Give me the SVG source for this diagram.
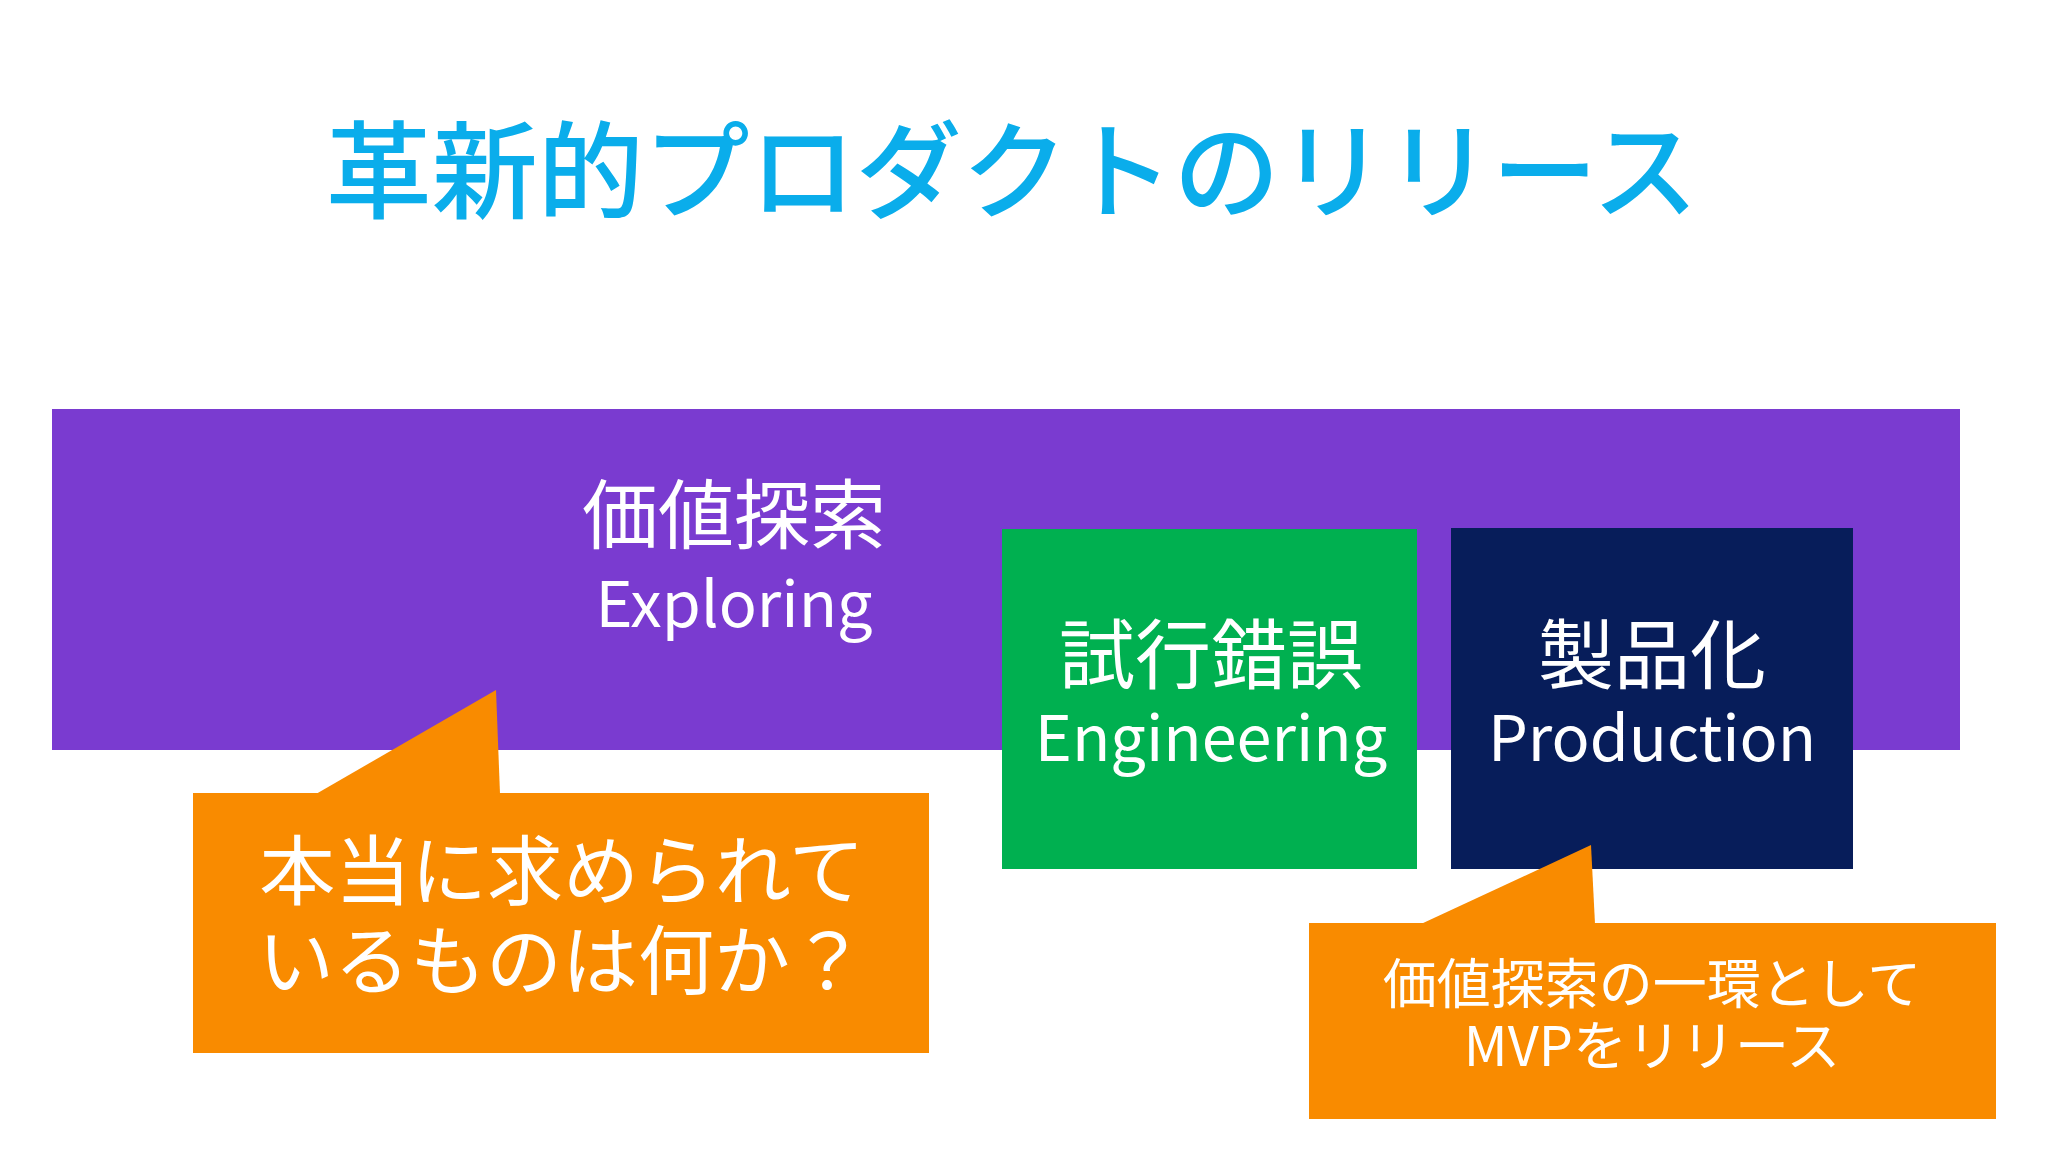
<svg xmlns="http://www.w3.org/2000/svg" width="2048" height="1152" viewBox="0 0 2048 1152">
<style>
text{font-family:"Noto Sans CJK JP","Noto Sans",sans-serif;text-anchor:middle;fill:#fff}
.t{fill:#0AADEB;font-size:106px;font-weight:500}
.big{font-size:76px}
.en{font-size:63px}
.c{fill:#F98B00}
</style>
<rect width="2048" height="1152" fill="#fff"/>
<g id="title"><text class="t" x="1012" y="210">革新的プロダクトのリリース</text></g>
<g id="exploring">
<rect x="52" y="409" width="1908" height="341" fill="#7A3BD0"/>
<text class="big" x="734" y="543">価値探索</text>
<text class="en" x="734" y="627">Exploring</text>
</g>
<g id="engineering">
<rect x="1002" y="529" width="415" height="340" fill="#00B050"/>
<text class="big" x="1211" y="683">試行錯誤</text>
<text class="en" x="1211" y="761">Engineering</text>
</g>
<g id="production">
<rect x="1451" y="528" width="402" height="341" fill="#071D5A"/>
<text class="big" x="1652" y="683">製品化</text>
<text class="en" x="1652" y="761">Production</text>
</g>
<g id="callout1">
<rect class="c" x="193" y="793" width="736" height="260"/>
<polygon class="c" points="316,794 496,690 500,794"/>
<text class="big" x="562" y="899">本当に求められて</text>
<text class="big" x="562" y="989">いるものは何か？</text>
</g>
<g id="callout2">
<rect class="c" x="1309" y="923" width="687" height="196"/>
<polygon class="c" points="1421,924 1591,845 1595,924"/>
<text x="1652" y="1004" font-size="54">価値探索の一環として</text>
<text x="1652" y="1066" font-size="54">MVPをリリース</text>
</g>
<g id="connectors"/>
</svg>
